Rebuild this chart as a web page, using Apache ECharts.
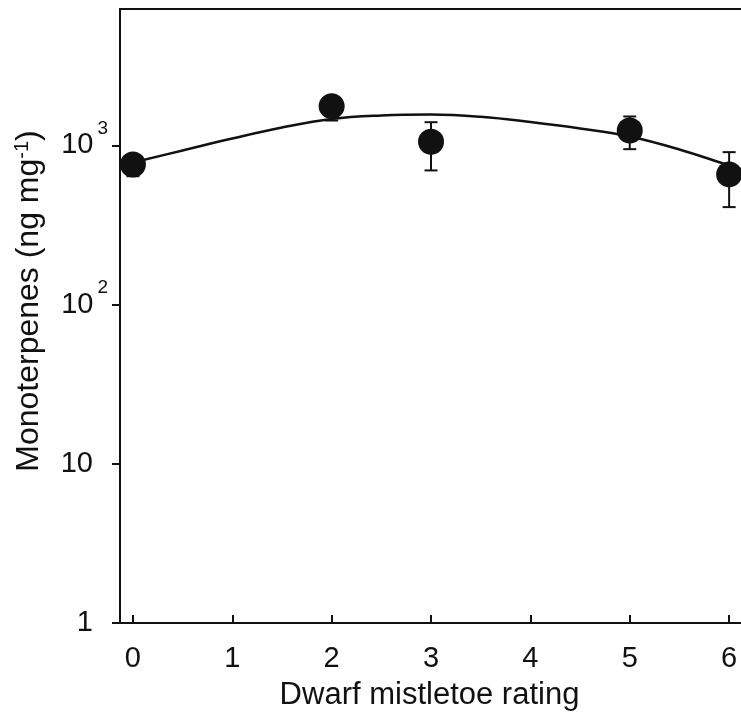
<!DOCTYPE html>
<html>
<head>
<meta charset="utf-8">
<script src="https://cdn.jsdelivr.net/npm/echarts@6/dist/echarts.min.js"></script>
<style>
  html, body { margin: 0; padding: 0; background: #fff; }
  #chart { width: 741px; height: 721px; }
</style>
</head>
<body>
<div id="chart"></div>
<script>
// Observed means with error bars
const ratings = [0, 2, 3, 5, 6];
const meanValues = [760, 1766, 1055, 1242, 658];
const lowerValues = [641, 1435, 697, 948, 410];
const upperValues = [840, 1950, 1400, 1521, 908];

// Fitted curve, points
const fitX = [0, 0.5, 1, 1.5, 2, 2.5, 3, 3.5, 4, 4.5, 5, 5.5, 6, 6.2];
const fitY = [782, 930, 1106, 1297, 1467, 1543, 1565, 1514, 1404, 1279, 1139, 944, 749, 687];

// Axis ticks
const xTicks = [0, 1, 2, 3, 4, 5, 6];
const yTicks = [1, 10, 100, 1000];

const xTitle = 'Dwarf mistletoe rating';
const yTitle = 'Monoterpenes (ng mg{sup|-1})';

const INK = '#111';
const FONT = '"Liberation Sans", Arial, sans-serif';

const chart = echarts.init(document.getElementById('chart'), null, { renderer: 'canvas' });

const scatterData = ratings.map((x, i) => [x, meanValues[i]]);
const errData = ratings.map((x, i) => [x, lowerValues[i], upperValues[i]]);
const fitData = fitX.map((x, i) => [x, fitY[i]]);

chart.setOption({
  animation: false,
  backgroundColor: '#fff',
  grid: {
    left: 120, top: 9, width: 629, height: 614,
    outerBoundsMode: 'none', containLabel: false,
    show: true, borderColor: INK, borderWidth: 2, backgroundColor: 'transparent'
  },
  xAxis: {
    type: 'value', min: -0.13, max: 6.2,
    splitLine: { show: false },
    axisLine: { show: true, onZero: false, lineStyle: { color: INK, width: 2 } },
    axisTick: { show: true, inside: true, length: 8, lineStyle: { color: INK, width: 2 }, customValues: xTicks },
    axisLabel: {
      customValues: xTicks, margin: 21,
      color: INK, fontFamily: FONT, fontSize: 29,
      formatter: v => String(Math.round(v))
    },
    name: xTitle, nameLocation: 'middle', nameGap: 57,
    nameTextStyle: { color: INK, fontFamily: FONT, fontSize: 31, padding: [0, 10, 0, 0] }
  },
  yAxis: {
    type: 'log', logBase: 10, min: 1, max: 7200,
    splitLine: { show: false },
    minorTick: { show: false },
    axisLine: { show: true, onZero: false, lineStyle: { color: INK, width: 2 } },
    axisTick: { show: true, inside: false, length: 8, lineStyle: { color: INK, width: 2 }, customValues: yTicks },
    axisLabel: {
      customValues: yTicks, margin: 12,
      color: INK, fontFamily: FONT, fontSize: 29,
      formatter: v => {
        const e = Math.round(Math.log10(v));
        if (e === 0) return '{b|1}{pad| }';
        if (e === 1) return '{b|10}{pad| }';
        return '{b|10}{sup|' + e + '}';
      },
      rich: {
        b: { fontFamily: FONT, fontSize: 29, color: INK, lineHeight: 29 },
        sup: { fontFamily: FONT, fontSize: 19, color: INK, lineHeight: 19, verticalAlign: 'bottom', padding: [0, 0, 22, 4] },
        pad: { fontFamily: FONT, fontSize: 19, width: 15 }
      }
    },
    name: yTitle, nameLocation: 'middle', nameGap: 75,
    nameTextStyle: {
      color: INK, fontFamily: FONT, fontSize: 32, padding: [0, 0, 0, 30],
      rich: {
        sup: { fontFamily: FONT, fontSize: 20, color: INK, lineHeight: 20, verticalAlign: 'bottom', padding: [0, 0, 13, 0] }
      }
    }
  },
  series: [
    {
      type: 'line', data: fitData, smooth: 0.4, showSymbol: false, z: 2,
      lineStyle: { color: INK, width: 2.5 }, clip: true
    },
    {
      type: 'custom', data: errData, z: 3,
      renderItem: function (params, api) {
        const x = api.value(0);
        const lo = api.coord([x, api.value(1)]);
        const hi = api.coord([x, api.value(2)]);
        const cap = 6.5;
        const style = { stroke: INK, lineWidth: 2 };
        return {
          type: 'group',
          children: [
            { type: 'line', shape: { x1: lo[0], y1: lo[1], x2: hi[0], y2: hi[1] }, style },
            { type: 'line', shape: { x1: lo[0] - cap, y1: lo[1], x2: lo[0] + cap, y2: lo[1] }, style },
            { type: 'line', shape: { x1: hi[0] - cap, y1: hi[1], x2: hi[0] + cap, y2: hi[1] }, style }
          ]
        };
      }
    },
    {
      type: 'scatter', data: scatterData, symbol: 'circle', symbolSize: 26, z: 4,
      itemStyle: { color: INK, opacity: 1 }
    }
  ]
});
</script>
</body>
</html>
